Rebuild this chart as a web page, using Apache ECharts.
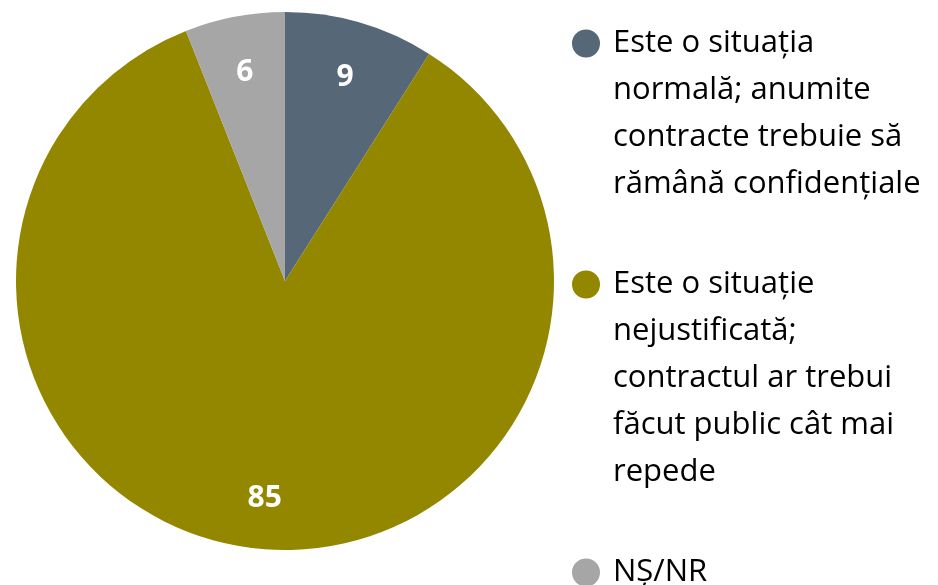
<!DOCTYPE html>
<html>
<head>
<meta charset="utf-8">
<script src="https://cdn.jsdelivr.net/npm/echarts@6/dist/echarts.min.js"></script>
<style>
  html, body { margin: 0; padding: 0; background: #fff; }
  #chart { width: 938px; height: 585px; }
</style>
</head>
<body>
<div id="chart"></div>
<script>
var categories = [
  'Este o situația\nnormală; anumite\ncontracte trebuie să\nrămână confidențiale',
  'Este o situație\nnejustificată;\ncontractul ar trebui\nfăcut public cât mai\nrepede',
  'NȘ/NR'
]
var values = [9, 85, 6]
var colors = ['#566778', '#938700', '#a6a6a6']

var LINE_H = 47
var MAX_LINES = 5

// circle at the top of a box as tall as the text, so it sits on the first line
function topDotIcon(lines) {
  var h = lines * LINE_H
  return 'path://M0,0 L0,0 Z M36,' + h + ' L36,' + h + ' Z ' +
    'M0,23.5 A14,14 0 1,1 28,23.5 A14,14 0 1,1 0,23.5 Z'
}

var chart = echarts.init(document.getElementById('chart'), null, { renderer: 'canvas' })

var pieData = categories.map(function (name, i) {
  return { name: name, value: values[i], itemStyle: { color: colors[i] } }
})
var labelData = categories.map(function (name, i) {
  return { name: name, value: values[i] }
})

var option = {
  animation: false,
  legend: {
    orient: 'vertical',
    left: 572,
    top: 20,
    padding: 0,
    itemGap: 53,
    itemWidth: 36,
    itemHeight: MAX_LINES * LINE_H,
    symbolKeepAspect: true,
    selectedMode: false,
    data: categories.map(function (name) {
      return { name: name, icon: topDotIcon(name.split('\n').length) }
    }),
    textStyle: {
      fontFamily: 'Open Sans',
      fontSize: 31,
      color: '#000',
      lineHeight: LINE_H
    }
  },
  series: [
    {
      type: 'pie',
      center: [285, 281],
      radius: [0, 269],
      startAngle: 90,
      clockwise: true,
      label: { show: false },
      labelLine: { show: false },
      itemStyle: { borderWidth: 0 },
      emphasis: { disabled: true },
      data: pieData
    },
    {
      // only for the numbers, placed at ~80% of the radius
      type: 'pie',
      center: [285, 281],
      radius: [155, 269],
      startAngle: 90,
      clockwise: true,
      silent: true,
      itemStyle: { color: 'rgba(0,0,0,0)', borderWidth: 0 },
      label: {
        show: true,
        position: 'inside',
        formatter: '{c}',
        color: '#fff',
        fontFamily: 'Open Sans',
        fontWeight: 'bold',
        fontSize: 30,
        offset: [0, 3]
      },
      labelLine: { show: false },
      emphasis: { disabled: true },
      data: labelData
    }
  ]
}

chart.setOption(option)
</script>
</body>
</html>
